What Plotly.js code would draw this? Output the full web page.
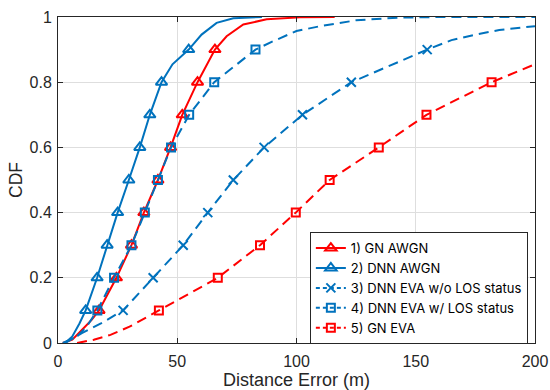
<!DOCTYPE html>
<html>
<head>
<meta charset="utf-8">
<script src="https://cdn.plot.ly/plotly-3.0.1.min.js"></script>
<style>html,body{margin:0;padding:0;background:#fff;}</style>
</head>
<body>
<div id="chart" style="width:550px;height:390px;"></div>
<script>
// Marker CDF levels
var markerY = [0.1, 0.2, 0.3, 0.4, 0.5, 0.6, 0.7, 0.8, 0.9];
var markerY5 = [0.1, 0.2, 0.3, 0.4, 0.5, 0.6, 0.7, 0.8];

// 1) GN AWGN
var gnAwgnMarkX = [17.2, 24.5, 30.8, 36, 41.9, 47.2, 52.1, 58.5, 65.8];
var gnAwgnLineX = [2, 6, 10, 14, 17.2, 24.5, 30.8, 36, 41.9, 47.2, 52.1, 58.5, 65.8, 70.7, 77.7, 87.5, 101.5, 116];
var gnAwgnLineY = [0, 0.01, 0.04, 0.07, 0.1, 0.2, 0.3, 0.4, 0.5, 0.6, 0.7, 0.8, 0.9, 0.941, 0.977, 0.993, 0.999, 1];

// 2) DNN AWGN
var dnnAwgnMarkX = [11.6, 16.4, 20.6, 25, 29.7, 34.3, 38.5, 43.4, 54.8];
var dnnAwgnLineX = [3, 6, 9, 11.6, 16.4, 20.6, 25, 29.7, 34.3, 38.5, 43.4, 48, 54.8, 60.2, 66.5, 73.5, 80, 85.5];
var dnnAwgnLineY = [0, 0.02, 0.06, 0.1, 0.2, 0.3, 0.4, 0.5, 0.6, 0.7, 0.8, 0.855, 0.9, 0.946, 0.982, 0.996, 0.999, 1];

// 3) DNN EVA w/o LOS status
var dnnNoLosMarkX = [27.3, 39.9, 52.5, 62.8, 73.5, 86.4, 102.5, 123, 154.8];
var dnnNoLosLineX = [3, 10, 18, 27.3, 39.9, 52.5, 62.8, 73.5, 86.4, 102.5, 123, 154.8, 165, 175, 185, 200];
var dnnNoLosLineY = [0, 0.03, 0.06, 0.1, 0.2, 0.3, 0.4, 0.5, 0.6, 0.7, 0.8, 0.9, 0.929, 0.946, 0.96, 0.972];

// 4) DNN EVA w/ LOS status
var dnnLosMarkX = [16.5, 23.5, 30.8, 36.4, 41.9, 47.4, 55, 65.5, 82.8];
var dnnLosLineX = [2, 8, 12, 16.5, 23.5, 30.8, 36.4, 41.9, 47.4, 55, 65.5, 82.8, 90, 100, 110, 117, 125, 143, 160, 200];
var dnnLosLineY = [0, 0.02, 0.05, 0.1, 0.2, 0.3, 0.4, 0.5, 0.6, 0.7, 0.8, 0.9, 0.925, 0.957, 0.972, 0.98, 0.99, 0.998, 1, 1];

// 5) GN EVA
var gnEvaMarkX = [42.3, 67, 84.7, 99.7, 113.9, 134.5, 154.5, 181.8];
var gnEvaLineX = [8, 15, 22, 30, 42.3, 67, 84.7, 99.7, 113.9, 134.5, 154.5, 181.8, 200];
var gnEvaLineY = [0, 0.01, 0.025, 0.05, 0.1, 0.2, 0.3, 0.4, 0.5, 0.6, 0.7, 0.8, 0.855];

var names = ['1) GN AWGN', '2) DNN AWGN', '3) DNN EVA w/o LOS status', '4) DNN EVA w/ LOS status', '5) GN EVA'];

var RED = '#FF0000', BLUE = '#0072BD';
var DASH = '10px,6px';
var FONT = 'Liberation Sans, Arial, sans-serif';

var series = [
  {lx: gnAwgnLineX, ly: gnAwgnLineY, mx: gnAwgnMarkX, my: markerY, color: RED, dash: 'solid', sym: 'triangle-up-open', size: 10},
  {lx: dnnAwgnLineX, ly: dnnAwgnLineY, mx: dnnAwgnMarkX, my: markerY, color: BLUE, dash: 'solid', sym: 'triangle-up-open', size: 10},
  {lx: dnnNoLosLineX, ly: dnnNoLosLineY, mx: dnnNoLosMarkX, my: markerY, color: BLUE, dash: DASH, sym: 'x-thin-open', size: 9},
  {lx: dnnLosLineX, ly: dnnLosLineY, mx: dnnLosMarkX, my: markerY, color: BLUE, dash: DASH, sym: 'square-open', size: 8},
  {lx: gnEvaLineX, ly: gnEvaLineY, mx: gnEvaMarkX, my: markerY5, color: RED, dash: DASH, sym: 'square-open', size: 8}
];

var traces = [];
series.forEach(function (s, i) {
  traces.push({
    x: s.lx, y: s.ly, mode: 'lines', type: 'scatter', showlegend: false, hoverinfo: 'skip',
    line: {color: s.color, width: 2, dash: s.dash}
  });
  traces.push({
    x: s.mx, y: s.my, mode: 'markers', type: 'scatter', showlegend: false,
    marker: {symbol: s.sym, size: s.size, color: s.color, line: {color: s.color, width: 2}}
  });
});
series.forEach(function (s, i) {
  traces.push({
    x: [null], y: [null], mode: 'lines+markers', type: 'scatter', name: names[i],
    line: {color: s.color, width: 2, dash: s.dash === 'solid' ? 'solid' : '4px,3px'},
    marker: {symbol: s.sym, size: s.size, color: s.color, line: {color: s.color, width: 2}}
  });
});

var axisCommon = {
  showgrid: true, gridcolor: '#dedede', gridwidth: 1,
  showline: true, linecolor: '#262626', linewidth: 1, mirror: 'ticks',
  ticks: 'inside', ticklen: 5, tickcolor: '#262626',
  zeroline: false,
  tickfont: {family: FONT, size: 16, color: '#262626'}
};

var layout = {
  width: 550, height: 390,
  margin: {l: 58, r: 15, t: 17, b: 47},
  paper_bgcolor: '#fff', plot_bgcolor: '#fff',
  font: {family: FONT, color: '#262626'},
  xaxis: Object.assign({}, axisCommon, {
    range: [0, 200], dtick: 50, tick0: 0, ticklabelstandoff: 4,
    title: {text: 'Distance Error (m)', font: {size: 18, color: '#262626'}, standoff: 2}
  }),
  yaxis: Object.assign({}, axisCommon, {
    range: [0, 1], dtick: 0.2, tick0: 0, ticklabelstandoff: 2,
    title: {text: 'CDF', font: {size: 17.5, color: '#262626'}, standoff: 2}
  }),
  legend: {
    x: 0.528, y: 0.34, xanchor: 'left', yanchor: 'top',
    bgcolor: '#fff', bordercolor: '#262626', borderwidth: 1,
    font: {family: 'Inter, Liberation Sans, Arial, sans-serif', size: 13, color: '#000'},
    tracegroupgap: 0, itemwidth: 30
  }
};

Plotly.newPlot('chart', traces, layout, {displayModeBar: false, staticPlot: true});
</script>
</body>
</html>
